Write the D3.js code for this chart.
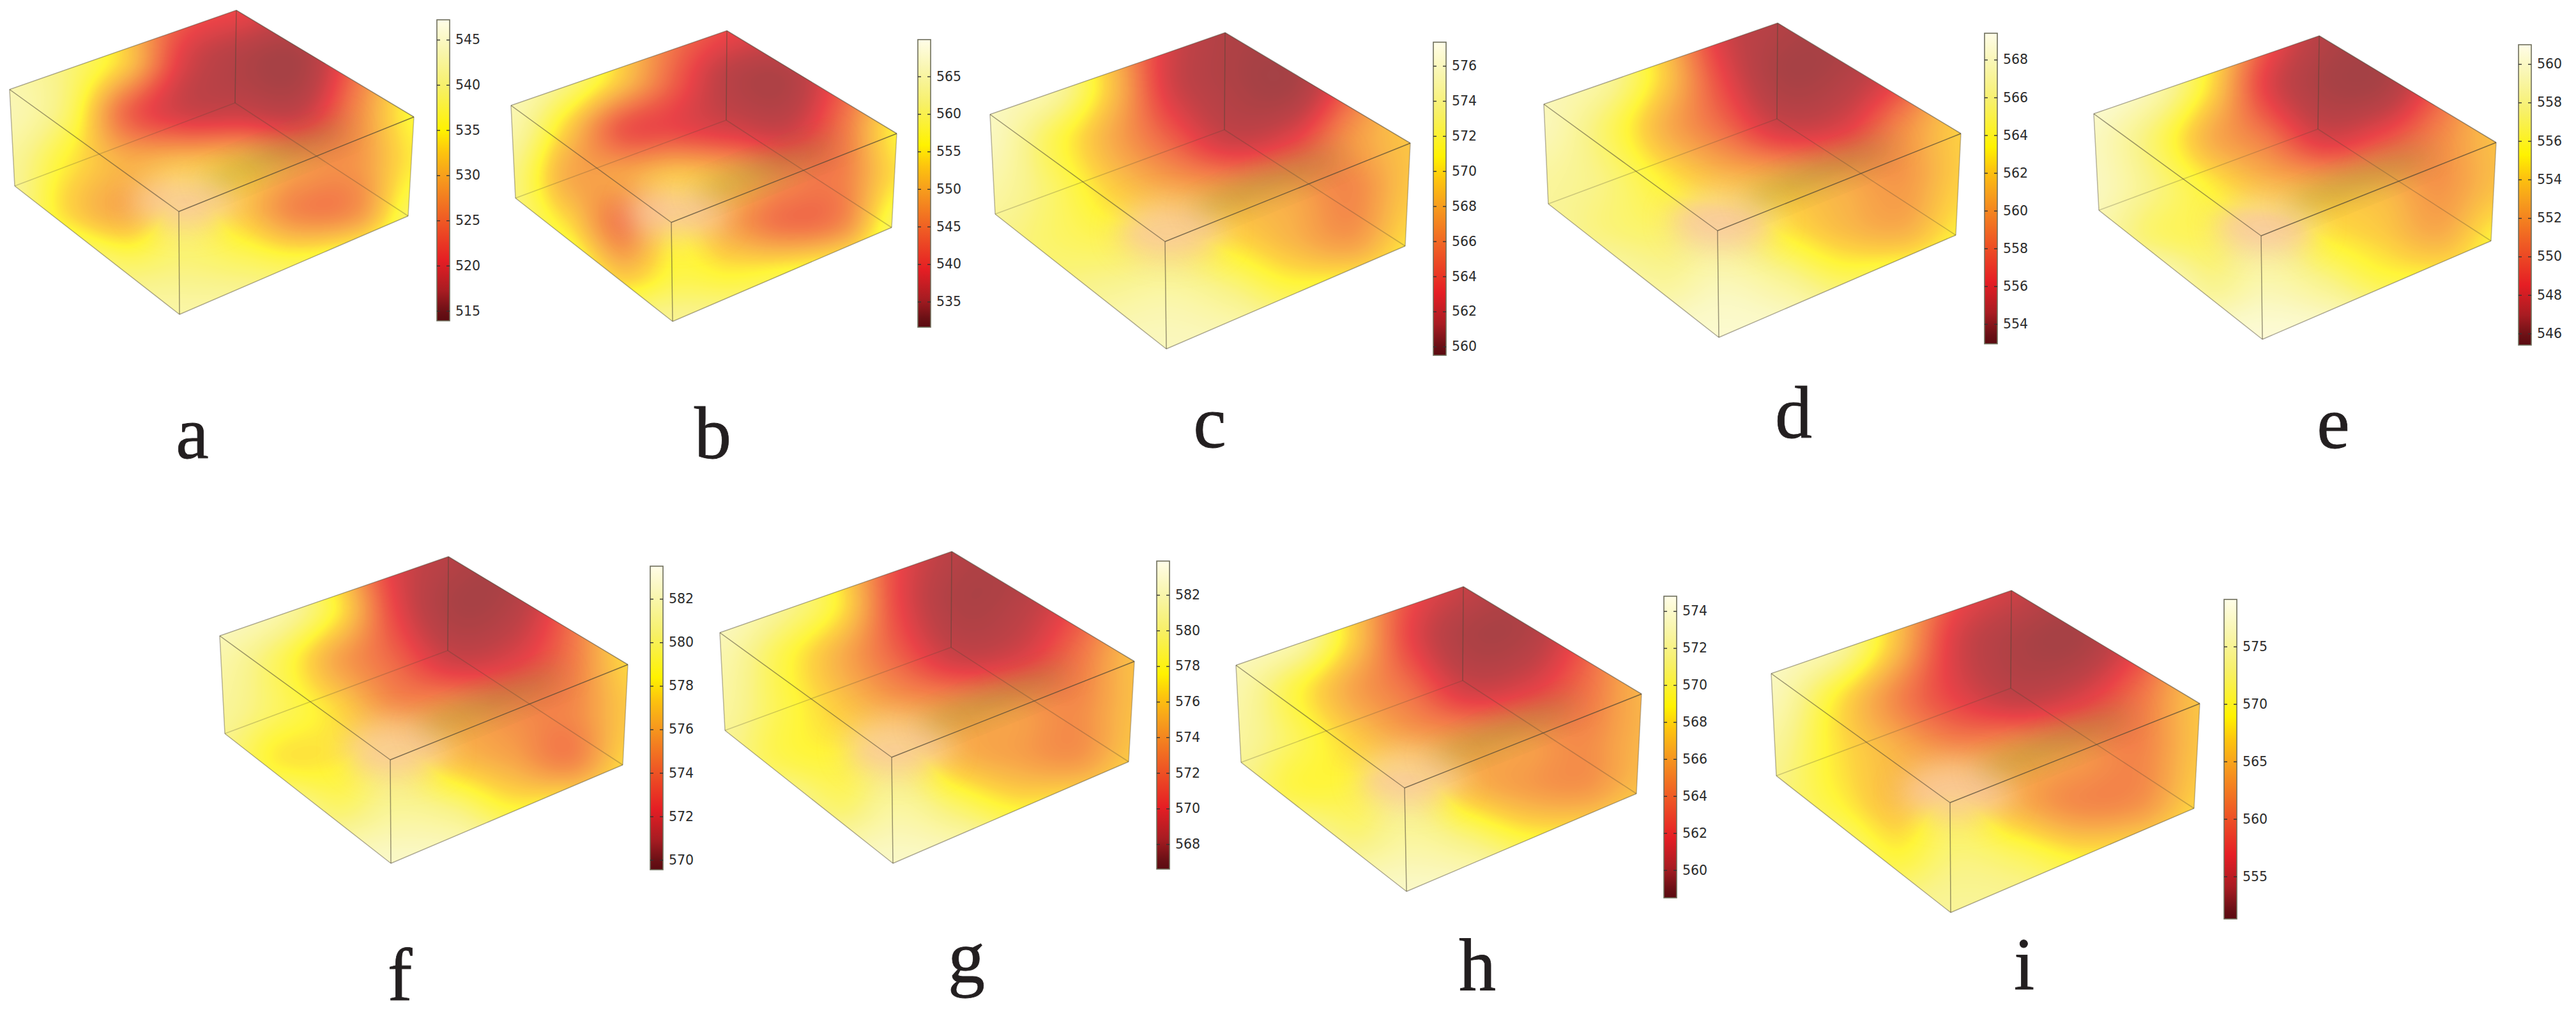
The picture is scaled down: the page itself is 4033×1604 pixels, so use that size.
<!DOCTYPE html>
<meta charset="utf-8">
<style>
  body { margin: 0; background: #fff; }
  svg { display: block; }
  .tick-label text { font: 20.5px "DejaVu Sans", sans-serif; fill: #2b2b2b; }
  .letter { font: 116px "Liberation Serif", serif; fill: #231f20; stroke: #231f20; stroke-width: 0.8px; text-anchor: middle; }
</style>
<svg width="4033" height="1604"></svg>
<script src="https://d3js.org/d3.v7.min.js"></script>
<script>

  // values, rows run from the back corner to the front bottom corner
  var letters = ["a", "b", "c", "d", "e", "f", "g", "h", "i"];

  var fieldA = [
    [540, 538, 530, 524, 522, 520, 525, 535],
    [541, 538, 532, 521, 517, 516, 525, 535],
    [542, 537, 525, 520, 519.5, 519, 527, 535],
    [540, 534, 530, 531, 531, 528, 528, 534],
    [540, 533, 530, 536, 532, 527, 528, 537],
    [540, 540, 537, 538, 537, 536, 538, 540],
    [541, 541, 541, 541, 541, 541, 541, 541]
  ];
  var fieldB = [
    [565, 560, 552, 545, 541, 540, 545, 555],
    [565, 560, 552, 543, 536, 535, 543, 552],
    [563, 553, 543, 541, 539, 538, 545, 555],
    [560, 550, 549, 552, 550, 546, 546, 554],
    [560, 554, 546, 555, 549, 545, 547, 558],
    [562, 560, 552, 556, 555, 556, 558, 560],
    [562, 562, 561, 561, 561, 561, 561, 561]
  ];
  var fieldC = [
    [574, 572, 568, 563, 561, 561, 564, 569],
    [575, 574, 569, 563, 561, 560.5, 565, 570],
    [575, 571.5, 568, 565, 562.5, 563.5, 567, 569],
    [574, 572, 569.5, 568, 567.5, 567.5, 566.5, 569],
    [573, 572, 571.5, 571.5, 570, 568.5, 567.5, 570],
    [573, 573, 573.5, 574, 573, 571.5, 572, 572],
    [575, 575, 575, 575, 575, 575, 575, 575]
  ];
  var fieldD = [
    [567, 565, 561, 556, 554.5, 554, 556, 561],
    [567, 566, 562, 557, 554, 554.5, 557, 562],
    [567, 564.5, 561, 558.5, 556, 556.5, 559.5, 562],
    [566, 565, 563, 561.5, 561, 560.5, 560, 562],
    [566, 565, 564.5, 565, 563, 561.5, 561, 563],
    [567, 567, 566, 567, 566, 564.5, 565, 565],
    [568, 568, 568, 568, 568, 568, 568, 568]
  ];
  var fieldE = [
    [559, 558, 555, 550, 547, 546.5, 549, 553],
    [560, 558.5, 554.5, 549, 546.5, 546.5, 550, 554],
    [559, 556.5, 553, 551, 548.5, 549.5, 551.5, 553.5],
    [559, 557, 555, 553.5, 553, 553, 552, 553.5],
    [558.5, 556.5, 556, 557, 555, 554, 553, 555],
    [560, 560, 557.5, 558.5, 557.5, 556, 556, 556],
    [560, 560, 560, 560, 560, 560, 560, 560]
  ];
  var fieldF = [
    [581.5, 580, 576.5, 572.5, 571, 570.5, 573, 577],
    [582, 581, 578, 573, 570.5, 571, 574, 578],
    [581, 579, 576, 574, 572, 572.5, 574.5, 577.5],
    [580.5, 579, 577.5, 575.5, 575.5, 575, 575, 577],
    [580, 578, 578, 579, 577, 576, 575, 577.5],
    [581, 581, 579.5, 580.5, 580, 578.5, 579, 579],
    [582, 582, 582, 582, 582, 582, 582, 582]
  ];
  var fieldG = [
    [581, 579, 576, 571, 568.5, 568, 570, 575],
    [582, 580, 577, 571, 568, 568.5, 571, 575],
    [581, 578, 575, 572, 569.5, 570, 572.5, 575.5],
    [580.5, 578, 576, 574.5, 574, 574, 573.5, 575.5],
    [580, 578, 577.5, 578.5, 575.5, 574.5, 574, 576],
    [581, 581, 579, 580.5, 579, 577.5, 578, 578],
    [582, 582, 582, 582, 582, 582, 582, 582]
  ];
  var fieldH = [
    [572.5, 571, 567, 563, 561, 560, 562, 566],
    [573, 572, 567.5, 562.5, 559.8, 560, 563, 567],
    [572, 569, 566, 564, 561.5, 562, 564, 566.5],
    [571.5, 569.5, 567.5, 566, 565.5, 565.5, 565, 566.5],
    [571, 569, 569, 570, 567, 565.8, 565.5, 567],
    [572, 572, 570.5, 571.5, 570.5, 569, 569, 569.5],
    [573, 573, 573, 573, 573, 573, 573, 573]
  ];
  var fieldI = [
    [575, 572, 566, 559, 556, 554, 557, 563],
    [576, 574, 566, 557, 553.5, 553, 558, 566],
    [575, 568.5, 562.5, 558, 555.5, 557, 561, 566],
    [573, 568, 565, 563, 563.5, 563, 562, 566],
    [572, 569, 566, 569, 565, 562.5, 563, 567],
    [573, 573, 569, 571.5, 570.5, 568.5, 569, 570],
    [573, 573, 573, 573, 573, 573, 573, 573]
  ];
  var fields = [fieldA, fieldB, fieldC, fieldD, fieldE, fieldF, fieldG, fieldH, fieldI];

  // colour bar ranges and tick labels
  var barDomains = [
    [513.9, 547.2], [531.6, 569.9], [559.5, 577.35], [552.95, 569.4], [545.4, 561],
    [569.55, 583.5], [566.6, 583.9], [558.5, 574.8], [551.3, 579.1]
  ];
  var barTicks = [
    [515, 520, 525, 530, 535, 540, 545],
    [535, 540, 545, 550, 555, 560, 565],
    [560, 562, 564, 566, 568, 570, 572, 574, 576],
    [554, 556, 558, 560, 562, 564, 566, 568],
    [546, 548, 550, 552, 554, 556, 558, 560],
    [570, 572, 574, 576, 578, 580, 582],
    [568, 570, 572, 574, 576, 578, 580, 582],
    [560, 562, 564, 566, 568, 570, 572, 574],
    [555, 560, 565, 570, 575]
  ];

  // layout: box corners as lt, bk, rt, ft, fb, lb, rb, bb
  var boxes = [
    [[15,140],[370,16],[648,183],[280,331],[281,492],[23,291],[639,338],[368,161]],
    [[800,165],[1138,48],[1404,209],[1051,348],[1053,503],[807,310],[1396,356],[1137,188]],
    [[1550,179],[1918,51],[2208,224],[1824,378],[1826,546],[1558,335],[2200,385],[1917,203]],
    [[2417,163],[2783,36],[3070,209],[2689,361],[2691,528],[2424,319],[3062,368],[2782,186]],
    [[3278,178],[3631,56],[3908,223],[3540,369],[3542,531],[3286,329],[3900,377],[3629,202]],
    [[344,995],[702,871],[983,1040],[611,1189],[612,1351],[352,1148],[975,1197],[701,1018]],
    [[1127,990],[1490,863],[1776,1035],[1396,1185],[1398,1351],[1135,1143],[1767,1192],[1489,1013]],
    [[1935,1041],[2291,918],[2570,1086],[2199,1233],[2202,1395],[1943,1193],[2562,1242],[2290,1065]],
    [[2773,1054],[3149,924],[3444,1101],[3053,1256],[3054,1428],[2781,1214],[3435,1265],[3148,1077]]
  ];
  var bars = [
    [684,31,502], [1437,62,512], [2244,66,556], [3107,52,538], [3943,70,540],
    [1018,886,1361], [1811,878,1360], [2605,933,1405], [3482,938,1438]
  ];
  var letterSpots = [
    [301,717], [1116,717], [1894,700], [2808,685], [3653,701],
    [626,1565], [1513,1537], [2313,1549], [3169,1548]
  ];

  var svg = d3.select("svg");
  var defs = svg.append("defs");

  var barStops = [0, 0.03, 0.1, 0.2, 0.335, 0.484, 0.56, 0.634, 0.78, 0.9, 1];
  var barColors = ["#5a0a10", "#6a1015", "#a81c22", "#e51e24", "#ef5a24", "#f7a01c", "#fdc40e", "#fff200", "#f7f06a", "#f9f6b0", "#fffde8"];
  var thermal = d3.scaleLinear().domain(barStops).range(barColors).clamp(true);

  var grad = defs.append("linearGradient").attr("id", "thermal")
    .attr("x1", 0).attr("x2", 0).attr("y1", 1).attr("y2", 0);
  grad.selectAll("stop").data(barStops).enter().append("stop")
    .attr("offset", function(d) { return d; })
    .attr("stop-color", function(d) { return thermal(d); });

  defs.append("filter").attr("id", "soft").attr("x", "-80%").attr("y", "-80%").attr("width", "260%").attr("height", "260%")
    .append("feGaussianBlur").attr("stdDeviation", 22);

  // the solid is see-through: the dark end never gets as deep as on the bar
  var boxStops = [0, 0.05, 0.14, 0.24, 0.355, 0.487, 0.555, 0.617, 0.75, 0.875, 1];
  var boxColors = ["#8f1f24", "#961d22", "#b31d23", "#e51e24", "#ef5a24", "#f7a01c", "#fdc40e", "#fff200", "#f7f06a", "#f9f6b0", "#fffde8"];
  var boxThermal = d3.scaleLinear().domain(boxStops).range(boxColors).clamp(true);
  var boxOpacity = d3.scaleLinear().domain([0.3, 0.6]).range([0.84, 0.78]).clamp(true);
  var lut = d3.range(256).map(function(i) {
    var c = d3.rgb(boxThermal(i / 255)), a = boxOpacity(i / 255);
    return [c.r, c.g, c.b].map(function(v) { return v * a + 255 * (1 - a); });
  });

  function cubic(a, b, c, d, s) {
    return b + 0.5 * s * (c - a + s * (2 * a - 5 * b + 4 * c - d + s * (3 * (b - c) + d - a)));
  }

  function sample(field, gx, gy) {
    var rows = field.length, cols = field[0].length;
    var i = Math.min(Math.floor(gx), cols - 2), j = Math.min(Math.floor(gy), rows - 2);
    var col = function(r, k) { var row = field[Math.max(0, Math.min(rows - 1, r))]; return cubic(row[Math.max(0, k - 1)], row[k], row[k + 1], row[Math.min(cols - 1, k + 2)], gx - i); };
    return cubic(col(j - 1, i), col(j, i), col(j + 1, i), col(j + 2, i), gy - j);
  }

  function lerp(p, q, s) { return [p[0] + (q[0] - p[0]) * s, p[1] + (q[1] - p[1]) * s]; }

  function drawBox(n) {
    var c = boxes[n], lt = c[0], bk = c[1], rt = c[2], ft = c[3], fb = c[4], lb = c[5], rb = c[6], bb = c[7];
    var field = fields[n];
    var x = d3.scaleLinear().domain([0, field[0].length - 1]).range([lt[0], rt[0]]);
    var y = d3.scaleLinear().domain([0, field.length - 1]).range([bk[1], fb[1]]);
    var level = d3.scaleLinear().domain(barDomains[n]).range([0, 255]).clamp(true);

    var w = Math.ceil(rt[0] - lt[0]) + 1, h = Math.ceil(fb[1] - bk[1]) + 1;
    var canvas = document.createElement("canvas");
    canvas.width = w; canvas.height = h;
    var ctx = canvas.getContext("2d");
    var img = ctx.createImageData(w, h);
    for (var py = 0; py < h; py++) {
      var gy = Math.min(y.invert(bk[1] + py), field.length - 1);
      for (var px = 0; px < w; px++) {
        var gx = Math.min(x.invert(lt[0] + px), field[0].length - 1);
        var col = lut[Math.round(level(sample(field, gx, gy)))];
        var o = (py * w + px) * 4;
        img.data[o] = col[0]; img.data[o + 1] = col[1]; img.data[o + 2] = col[2]; img.data[o + 3] = 255;
      }
    }
    ctx.putImageData(img, 0, 0);

    var hull = [lt, bk, rt, rb, fb, lb];
    defs.append("clipPath").attr("id", "hull" + n)
      .append("polygon").attr("points", hull.join(" "));

    var g = svg.append("g");
    var solid = g.append("g").attr("clip-path", "url(#hull" + n + ")");
    solid.append("image")
      .attr("x", lt[0]).attr("y", bk[1]).attr("width", w).attr("height", h)
      .attr("href", canvas.toDataURL());

    // pink patch at the near corner and dull band behind the near edge
    var tall = fb[1] - bk[1], wide = rt[0] - lt[0];
    solid.append("ellipse")
      .attr("cx", ft[0] + wide * 0.015).attr("cy", ft[1] - tall * 0.035).attr("rx", wide * 0.13).attr("ry", tall * 0.09)
      .attr("fill", "#f8c2a8").attr("opacity", 0.8).attr("filter", "url(#soft)");
    var mud = lerp(ft, rt, 0.42);
    var angle = Math.atan2(rt[1] - ft[1], rt[0] - ft[0]) * 180 / Math.PI;
    solid.append("ellipse")
      .attr("cx", mud[0]).attr("cy", mud[1] - tall * 0.055).attr("rx", wide * 0.2).attr("ry", tall * 0.035)
      .attr("transform", "rotate(" + angle + " " + mud[0] + " " + (mud[1] - tall * 0.055) + ")")
      .attr("fill", "#8f8a30").attr("opacity", 0.5).attr("filter", "url(#soft)");

    var edges = [
      [lb, bb, 0.25], [rb, bb, 0.3], [bk, bb, 0.5],
      [lb, fb, 0.45], [fb, rb, 0.45], [lt, lb, 0.4], [rt, rb, 0.35], [ft, fb, 0.55],
      [lt, bk, 0.45], [bk, rt, 0.55], [lt, ft, 0.55], [ft, rt, 0.7]
    ];
    g.selectAll("line").data(edges).enter().append("line")
      .attr("x1", function(d) { return d[0][0]; }).attr("y1", function(d) { return d[0][1]; })
      .attr("x2", function(d) { return d[1][0]; }).attr("y2", function(d) { return d[1][1]; })
      .attr("stroke", "#4d4636").attr("stroke-width", 1.5)
      .attr("stroke-opacity", function(d) { return d[2]; });
  }

  function drawBar(n) {
    var b = bars[n], barW = 20;
    var y = d3.scaleLinear().domain(barDomains[n]).range([b[2], b[1]]);
    var g = svg.append("g");
    g.append("rect")
      .attr("x", b[0]).attr("y", b[1]).attr("width", barW).attr("height", b[2] - b[1])
      .attr("fill", "url(#thermal)").attr("stroke", "#6e6e5c").attr("stroke-width", 1.6);

    var right = g.append("g").attr("class", "tick-label")
      .attr("transform", "translate(" + (b[0] + barW) + ",0)")
      .call(d3.axisRight(y).tickValues(barTicks[n]).tickSizeInner(-5).tickSizeOuter(0).tickPadding(9).tickFormat(d3.format("d")));
    var left = g.append("g")
      .attr("transform", "translate(" + b[0] + ",0)")
      .call(d3.axisLeft(y).tickValues(barTicks[n]).tickSizeInner(-5).tickSizeOuter(0).tickFormat(""));
    right.select(".domain").remove();
    left.select(".domain").remove();
    g.selectAll(".tick line").attr("stroke", "#333").attr("stroke-width", 1.4);
  }

  letters.forEach(function(name, n) {
    drawBox(n);
    drawBar(n);
    svg.append("text").attr("class", "letter")
      .attr("x", letterSpots[n][0]).attr("y", letterSpots[n][1])
      .text(name);
  });

</script>
